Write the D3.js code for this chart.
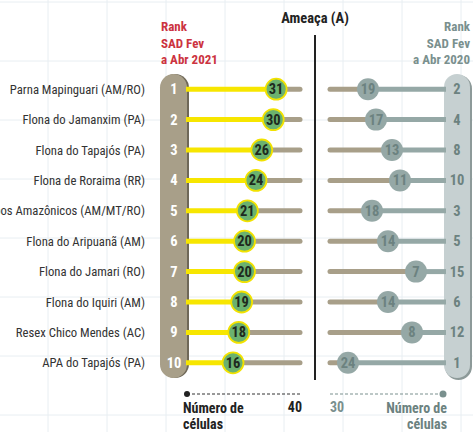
<!DOCTYPE html>
<html>
<head>
<meta charset="utf-8">
<script src="https://cdn.jsdelivr.net/npm/d3@7"></script>
<style>
  body { margin: 0; background: #fff; }
  svg text { font-family: "Liberation Sans Narrow", "Roboto Condensed", "DejaVu Sans Condensed", sans-serif; }
</style>
</head>
<body>
<div id="chart"></div>
<script>
// Data
const areas = ["Parna Mapinguari (AM/RO)", "Flona do Jamanxim (PA)", "Flona do Tapajós (PA)",
  "Flona de Roraima (RR)", "Campos Amazônicos (AM/MT/RO)", "Flona do Aripuanã (AM)",
  "Flona do Jamari (RO)", "Flona do Iquiri (AM)", "Resex Chico Mendes (AC)", "APA do Tapajós (PA)"];
const rank2021 = [1, 2, 3, 4, 5, 6, 7, 8, 9, 10];
const cells2021 = [31, 30, 26, 24, 21, 20, 20, 19, 18, 16];
const cells2020 = [19, 17, 13, 11, 18, 14, 7, 14, 8, 24];
const rank2020 = [2, 4, 8, 10, 3, 5, 15, 6, 12, 1];

const width = 473, height = 432;

const svg = d3.select("#chart").append("svg")
    .attr("width", width)
    .attr("height", height);

// background grid
const gridStep = 59;
svg.append("g").selectAll("line.v")
    .data(d3.range(48, width, gridStep))
    .join("line")
    .attr("x1", d => d).attr("x2", d => d)
    .attr("y1", 0).attr("y2", height)
    .attr("stroke", "#e8eef2").attr("stroke-width", 1);
svg.append("g").selectAll("line.h")
    .data(d3.range(2, height, gridStep))
    .join("line")
    .attr("x1", 0).attr("x2", width)
    .attr("y1", d => d).attr("y2", d => d)
    .attr("stroke", "#e8eef2").attr("stroke-width", 1);

// Scales
const y = d3.scaleBand().domain(areas).range([74, 378]);
const yc = d => y(d) + y.bandwidth() / 2;
const xL = d3.scaleLinear().domain([0, 40]).range([187, 302]);
const xR = d3.scaleLinear().domain([0, 30]).range([444, 324]);

const rows = areas.map((a, i) => ({
  name: a, r21: rank2021[i], c21: cells2021[i], c20: cells2020[i], r20: rank2020[i]
}));

// Pills
const pillTop = y.range()[0], pillBot = y.range()[1];
// left pill shadow + pill
svg.append("rect").attr("x", 161).attr("y", pillTop).attr("width", 28).attr("height", pillBot - pillTop)
    .attr("rx", 14).attr("fill", "#6f6858");
svg.append("rect").attr("x", 160).attr("y", pillTop).attr("width", 27).attr("height", pillBot - pillTop)
    .attr("rx", 13.5).attr("fill", "#a89f89");
// right pill shadow + pill
svg.append("rect").attr("x", 445).attr("y", pillTop + 1).attr("width", 27).attr("height", pillBot - pillTop + 1)
    .attr("rx", 13.5).attr("fill", "#8d9a99");
svg.append("rect").attr("x", 444).attr("y", pillTop).attr("width", 26).attr("height", pillBot - pillTop)
    .attr("rx", 13).attr("fill", "#c6d0d1");

// Left lines
const left = svg.append("g");
left.selectAll("line.rest").data(rows).join("line")
    .attr("x1", d => xL(d.c21)).attr("x2", xL(40) - 2)
    .attr("y1", d => yc(d.name)).attr("y2", d => yc(d.name))
    .attr("stroke", "#a89f89").attr("stroke-width", 5).attr("stroke-linecap", "round");
left.selectAll("line.val").data(rows).join("line")
    .attr("x1", 186).attr("x2", d => xL(d.c21))
    .attr("y1", d => yc(d.name)).attr("y2", d => yc(d.name))
    .attr("stroke", "#f7e600").attr("stroke-width", 5);
left.selectAll("circle").data(rows).join("circle")
    .attr("cx", d => xL(d.c21)).attr("cy", d => yc(d.name)).attr("r", 10.5)
    .attr("fill", "#6bb26f").attr("stroke", "#f2e200").attr("stroke-width", 1.8);
left.selectAll("text.val").data(rows).join("text")
    .attr("x", d => xL(d.c21)).attr("y", d => yc(d.name) + 5)
    .attr("text-anchor", "middle").attr("font-size", 14.5).attr("font-weight", "bold")
    .attr("fill", "#1e2a1e").text(d => d.c21);
left.selectAll("text.rank").data(rows).join("text")
    .attr("x", 174).attr("y", d => yc(d.name) + 5)
    .attr("text-anchor", "middle").attr("font-size", 14.5).attr("font-weight", "bold")
    .attr("fill", "#fff").text(d => d.r21);

// Right lines
const right = svg.append("g");
right.selectAll("line.rest").data(rows).join("line")
    .attr("x1", xR(30) + 6).attr("x2", d => xR(d.c20))
    .attr("y1", d => yc(d.name)).attr("y2", d => yc(d.name))
    .attr("stroke", "#a89f89").attr("stroke-width", 5).attr("stroke-linecap", "round");
right.selectAll("line.val").data(rows).join("line")
    .attr("x1", d => xR(d.c20)).attr("x2", 446)
    .attr("y1", d => yc(d.name)).attr("y2", d => yc(d.name))
    .attr("stroke", "#95a8a6").attr("stroke-width", 5);
right.selectAll("circle").data(rows).join("circle")
    .attr("cx", d => xR(d.c20)).attr("cy", d => yc(d.name)).attr("r", 11)
    .attr("fill", "#95a8a6");
right.selectAll("text.val").data(rows).join("text")
    .attr("x", d => xR(d.c20)).attr("y", d => yc(d.name) + 5)
    .attr("text-anchor", "middle").attr("font-size", 14.5).attr("font-weight", "bold")
    .attr("fill", "#6c8280").text(d => d.c20);
right.selectAll("text.rank").data(rows).join("text")
    .attr("x", 457).attr("y", d => yc(d.name) + 5)
    .attr("text-anchor", "middle").attr("font-size", 14.5).attr("font-weight", "bold")
    .attr("fill", "#6c8280").text(d => d.r20);

// Category labels
svg.append("g").selectAll("text").data(rows).join("text")
    .attr("x", 145).attr("y", d => yc(d.name) + 4.5)
    .attr("text-anchor", "end").attr("font-size", 12.7)
    .attr("fill", "#333").text(d => d.name);

// Headers
const hdr21 = ["Rank", "SAD Fev", "a Abr 2021"];
const hdr20 = ["Rank", "SAD Fev", "a Abr 2020"];
svg.append("g").selectAll("text").data(hdr21).join("text")
    .attr("x", 161).attr("y", (d, i) => 31 + i * 16.5)
    .attr("font-size", 13).attr("font-weight", "bold").attr("fill", "#cc3340").text(d => d);
svg.append("g").selectAll("text").data(hdr20).join("text")
    .attr("x", 470).attr("y", (d, i) => 31 + i * 16.5).attr("text-anchor", "end")
    .attr("font-size", 13).attr("font-weight", "bold").attr("fill", "#7a908e").text(d => d);

svg.append("text").attr("x", 315).attr("y", 23).attr("text-anchor", "middle")
    .attr("font-size", 14.5).attr("font-weight", "bold").attr("fill", "#222").text("Ameaça (A)");
svg.append("line").attr("x1", 315).attr("x2", 315).attr("y1", 35).attr("y2", 380)
    .attr("stroke", "#222").attr("stroke-width", 2);

// Bottom legends
svg.append("line").attr("x1", xL(0)).attr("x2", xL(40)).attr("y1", 394).attr("y2", 394)
    .attr("stroke", "#333").attr("stroke-width", 1).attr("stroke-dasharray", "3,2");
svg.append("circle").attr("cx", xL(0)).attr("cy", 394).attr("r", 3).attr("fill", "#222");
svg.append("text").attr("x", xL(40)).attr("y", 412).attr("text-anchor", "end")
    .attr("font-size", 14).attr("font-weight", "bold").attr("fill", "#222").text("40");
svg.append("g").selectAll("text").data(["Número de", "células"]).join("text")
    .attr("x", 183).attr("y", (d, i) => 413 + i * 16)
    .attr("font-size", 14).attr("font-weight", "bold").attr("fill", "#222").text(d => d);

svg.append("line").attr("x1", xR(30) + 6).attr("x2", 443).attr("y1", 394).attr("y2", 394)
    .attr("stroke", "#7a908e").attr("stroke-width", 1).attr("stroke-dasharray", "3,2");
svg.append("circle").attr("cx", 443).attr("cy", 394).attr("r", 3.5).attr("fill", "#7a908e");
svg.append("text").attr("x", xR(30) + 6).attr("y", 412)
    .attr("font-size", 14).attr("font-weight", "bold").attr("fill", "#7a908e").text("30");
svg.append("g").selectAll("text").data(["Número de", "células"]).join("text")
    .attr("x", 447).attr("y", (d, i) => 413 + i * 16).attr("text-anchor", "end")
    .attr("font-size", 14).attr("font-weight", "bold").attr("fill", "#6c8280").text(d => d);
</script>
</body>
</html>
